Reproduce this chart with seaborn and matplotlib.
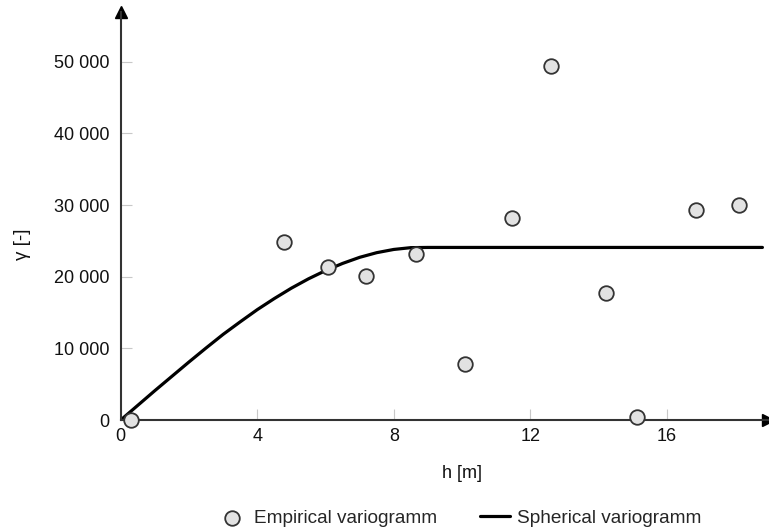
import pandas as pd
import seaborn as sns
import matplotlib.pyplot as plt

# empirical variogram points
LAG = [0.29, 4.79, 6.08, 7.18, 8.65, 10.08, 11.47, 12.6, 14.23, 15.13, 16.86, 18.1]
GAMMA = [0, 24870, 21300, 20080, 23110, 7810, 28130, 49370, 17670, 370, 29290, 29940]

# fitted spherical model, sampled along the drawn curve
MODEL_LAG = [0, 0.5, 1, 1.5, 2, 2.5, 3, 3.5, 4, 4.5, 5, 5.5, 6, 6.5, 7, 7.5, 8, 8.5, 9, 18.8]
MODEL_GAMMA = [0, 2050, 4100, 6100, 8100, 10050, 11950, 13700, 15400, 16950, 18400,
               19700, 20850, 21850, 22700, 23350, 23800, 24050, 24080, 24080]

X_TICKS = [0, 4, 8, 12, 16]
Y_TICKS = [0, 10000, 20000, 30000, 40000, 50000]
Y_TICK_LABELS = ['0', '10 000', '20 000', '30 000', '40 000', '50 000']

AXIS_COLOR = '#333333'
FONT_SIZE = 13
LEGEND_FONTSIZE = 13.7


def main():
    sns.set_style('white')
    plt.rcParams['font.family'] = ['Liberation Sans', 'DejaVu Sans']

    emp = pd.DataFrame({'h': LAG, 'gamma': GAMMA})
    model = pd.DataFrame({'h': MODEL_LAG, 'gamma': MODEL_GAMMA})

    fig = plt.figure(figsize=(7.69, 5.31), dpi=100)
    ax = fig.add_axes([0.157, 0.209, 0.842, 0.768])

    sns.lineplot(data=model, x='h', y='gamma', color='black', linewidth=2.3,
                 ax=ax, label='Spherical variogramm', zorder=2)
    sns.scatterplot(data=emp, x='h', y='gamma', s=110, color='#e2e2e2',
                    edgecolor='#333333', linewidth=1.3, ax=ax,
                    label='Empirical variogramm', zorder=3, clip_on=False)

    ax.set_xlim(0, 18.97)
    ax.set_ylim(0, 56900)

    for side in ['top', 'right']:
        ax.spines[side].set_visible(False)
    for side in ['left', 'bottom']:
        ax.spines[side].set_color(AXIS_COLOR)
        ax.spines[side].set_linewidth(1.5)

    # arrow heads on the axes
    ax.plot(1, 0, '>', color='black', markersize=9, transform=ax.get_yaxis_transform(), clip_on=False)
    ax.plot(0, 1, '^', color='black', markersize=9, transform=ax.get_xaxis_transform(), clip_on=False)

    ax.set_xticks(X_TICKS)
    ax.set_yticks(Y_TICKS)
    ax.set_yticklabels(Y_TICK_LABELS)
    ax.tick_params(axis='both', direction='in', length=8, width=0.8, color='#c8c8c8',
                   labelsize=FONT_SIZE, labelcolor='#111111', bottom=True, left=True)
    ax.tick_params(axis='y', pad=8)
    ax.tick_params(axis='x', pad=6)

    ax.set_xlabel('h [m]', fontsize=FONT_SIZE, color='#111111')
    ax.set_ylabel('γ [-]', fontsize=13.5, color='#111111')
    ax.xaxis.set_label_coords(0.527, -0.11)
    ax.yaxis.set_label_coords(-0.138, 0.43)

    handles, labels = ax.get_legend_handles_labels()
    ax.legend_.remove()
    fig.legend(handles[::-1], labels[::-1], loc='lower center', ncol=2, frameon=False,
               fontsize=LEGEND_FONTSIZE, bbox_to_anchor=(0.597, -0.024), columnspacing=2.26,
               handlelength=1.58, handletextpad=0.37)

    fig.savefig('out.png', dpi=100)


if __name__ == '__main__':
    main()
